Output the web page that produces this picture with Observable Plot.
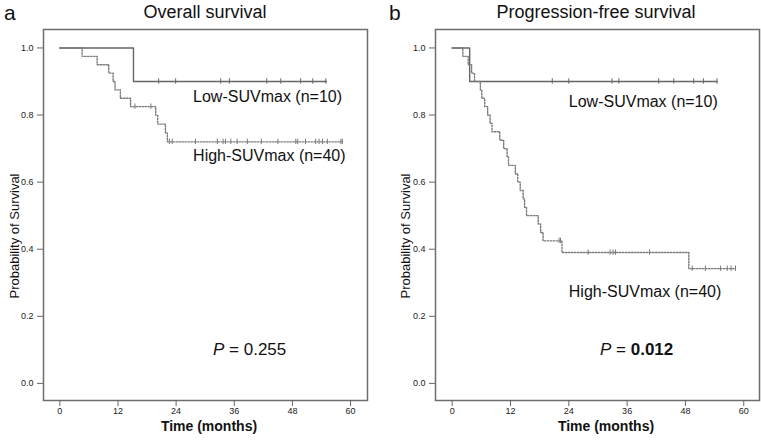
<!DOCTYPE html>
<html>
<head>
<meta charset="utf-8">
<script src="https://cdn.jsdelivr.net/npm/d3@7"></script>
<script src="https://cdn.jsdelivr.net/npm/@observablehq/plot@0.6"></script>
<style>
  html, body { margin: 0; padding: 0; background: #fff; overflow: hidden; }
  #wrap { position: relative; width: 761px; height: 442px; font-family: "Liberation Sans", Arial, sans-serif; color: #111; }
  .abs { position: absolute; line-height: 1.15; white-space: nowrap; }
  .c { transform: translateX(-50%); }
  .rot { transform: translate(-50%, -50%) rotate(-90deg); }
</style>
</head>
<body>
<div id="wrap">
  <div id="pa" class="abs" style="left:0;top:0;line-height:0"></div>
  <div id="pb" class="abs" style="left:385px;top:0;line-height:0"></div>
  <div class="abs" style="left:4px;top:1px;font-size:21px">a</div>
  <div class="abs c" style="left:205px;top:2px;font-size:18px">Overall survival</div>
  <div class="abs" style="left:389px;top:1px;font-size:21px">b</div>
  <div class="abs c" style="left:596px;top:2px;font-size:18px">Progression-free survival</div>
  <div class="abs c" style="left:209px;top:418px;font-size:14px;font-weight:bold">Time (months)</div>
  <div class="abs c" style="left:606px;top:418px;font-size:14px;font-weight:bold">Time (months)</div>
  <div class="abs rot" style="left:15px;top:236px;font-size:13px">Probability of Survival</div>
  <div class="abs rot" style="left:406px;top:236px;font-size:13px">Probability of Survival</div>
  <div class="abs" style="left:213px;top:340px;font-size:17px"><i>P</i> = 0.255</div>
  <div class="abs" style="left:600px;top:340px;font-size:17px"><i>P</i> = <b>0.012</b></div>
</div>
<script>
// ---- Data: Overall survival (panel a) ----
const lowA_time = [0, 15.2, 55.0];
const lowA_surv = [1.0, 0.9, 0.9];
const lowA_censor = [20.4, 23.9, 33.2, 35.0, 42.7, 45.6, 49.7, 52.2, 54.9];

const highA_time = [0, 4.6, 7.7, 10.1, 11.0, 11.4, 12.5, 14.6, 19.8, 20.2, 21.8, 22.2, 58.4];
const highA_surv = [1.0, 0.975, 0.95, 0.925, 0.90, 0.875, 0.85, 0.825, 0.799, 0.773, 0.746, 0.72, 0.72];
const highA_censor = [15.5, 18.8, 22.6, 23.2, 28.0, 32.5, 33.7, 34.2, 35.3, 36.6, 38.7, 41.6, 45.0, 48.7, 49.1, 50.7, 52.8, 53.5, 54.2, 55.2, 58.0, 58.3];

// ---- Data: Progression-free survival (panel b) ----
const lowB_time = [0, 3.6, 54.5];
const lowB_surv = [1.0, 0.9, 0.9];
const lowB_censor = [20.6, 24.0, 32.9, 34.3, 42.5, 45.6, 49.7, 51.7, 54.5];

const highB_time = [0, 2.2, 3.3, 4.0, 4.6, 5.8, 6.1, 6.7, 7.3, 7.8, 8.2, 9.8, 10.6, 11.3, 11.6, 13.0, 13.5, 14.0, 14.6, 14.9, 15.3, 17.7, 18.2, 18.7, 22.6, 48.7, 58.3];
const highB_surv = [1.0, 0.975, 0.95, 0.925, 0.90, 0.875, 0.85, 0.825, 0.80, 0.775, 0.75, 0.725, 0.70, 0.675, 0.65, 0.625, 0.60, 0.575, 0.55, 0.525, 0.50, 0.475, 0.45, 0.425, 0.39, 0.342, 0.342];
const highB_censor = [22.0, 22.3, 28.0, 32.5, 33.1, 33.6, 40.6, 49.4, 52.1, 55.2, 56.6, 57.4, 58.3];

// ---- Axis ticks ----
const xTicks = [0, 12, 24, 36, 48, 60];
const yTicks = [0, 0.2, 0.4, 0.6, 0.8, 1.0];

const toRows = (t, s) => t.map((d, i) => ({t: d, s: s[i]}));
const survAt = (t, s, x) => { let v = s[0]; for (let i = 0; i < t.length; i++) if (t[i] <= x) v = s[i]; return v; };
const censorRows = (c, t, s) => c.map(x => ({t: x, s: survAt(t, s, x)}));

const solidColor = "#666";
const dotColor = "#7a7a7a";

function panel(opts) {
  const {width, marginLeft, marginRight, xDomain, low, high, lowLabel, highLabel} = opts;
  return Plot.plot({
    width, height: 442,
    marginLeft, marginRight, marginTop: 29, marginBottom: 42,
    style: {fontFamily: "'Liberation Sans Narrow', 'Liberation Sans', Arial, sans-serif", fontSize: "9.5px", background: "transparent", color: "#222"},
    x: {domain: xDomain},
    y: {domain: [-0.051, 1.055]},
    marks: [
      Plot.frame({stroke: "#6e6e6e", strokeWidth: 1.5}),
      Plot.line(toRows(low.t, low.s), {x: "t", y: "s", curve: "step-after", stroke: solidColor, strokeWidth: 1.4}),
      Plot.ruleX(censorRows(low.c, low.t, low.s), {x: "t", y1: d => d.s - 0.008, y2: d => d.s + 0.008, stroke: solidColor, strokeWidth: 1}),
      Plot.line(toRows(high.t, high.s), {x: "t", y: "s", curve: "step-after", stroke: dotColor, strokeWidth: 1.4, strokeDasharray: "1.5,1.5"}),
      Plot.ruleX(censorRows(high.c, high.t, high.s), {x: "t", y1: d => d.s - 0.008, y2: d => d.s + 0.008, stroke: dotColor, strokeWidth: 1}),
      Plot.axisX({ticks: xTicks, tickSize: 6, tickPadding: 1, label: null, stroke: "#666", fontSize: 9}),
      Plot.axisY({ticks: yTicks, tickFormat: d3.format(".1f"), tickSize: 6, tickPadding: 4, label: null, stroke: "#666", fontSize: 9}),
      Plot.text([lowLabel], {x: d => d.x, y: d => d.y, text: d => d.text, textAnchor: "start", fontSize: 16, fontFamily: "'Liberation Sans', Arial, sans-serif", fill: "#111"}),
      Plot.text([highLabel], {x: d => d.x, y: d => d.y, text: d => d.text, textAnchor: "start", fontSize: 16, fontFamily: "'Liberation Sans', Arial, sans-serif", fill: "#111"})
    ]
  });
}

document.getElementById("pa").append(panel({
  width: 380, marginLeft: 43, marginRight: 13, xDomain: [-3.37, 63.5],
  low: {t: lowA_time, s: lowA_surv, c: lowA_censor},
  high: {t: highA_time, s: highA_surv, c: highA_censor},
  lowLabel: {x: 27.5, y: 0.855, text: "Low-SUVmax (n=10)"},
  highLabel: {x: 27.5, y: 0.677, text: "High-SUVmax (n=40)"}
}));

document.getElementById("pb").append(panel({
  width: 376, marginLeft: 50, marginRight: 2, xDomain: [-3.43, 63.24],
  low: {t: lowB_time, s: lowB_surv, c: lowB_censor},
  high: {t: highB_time, s: highB_surv, c: highB_censor},
  lowLabel: {x: 24.0, y: 0.839, text: "Low-SUVmax (n=10)"},
  highLabel: {x: 24.0, y: 0.274, text: "High-SUVmax (n=40)"}
}));
</script>
</body>
</html>
